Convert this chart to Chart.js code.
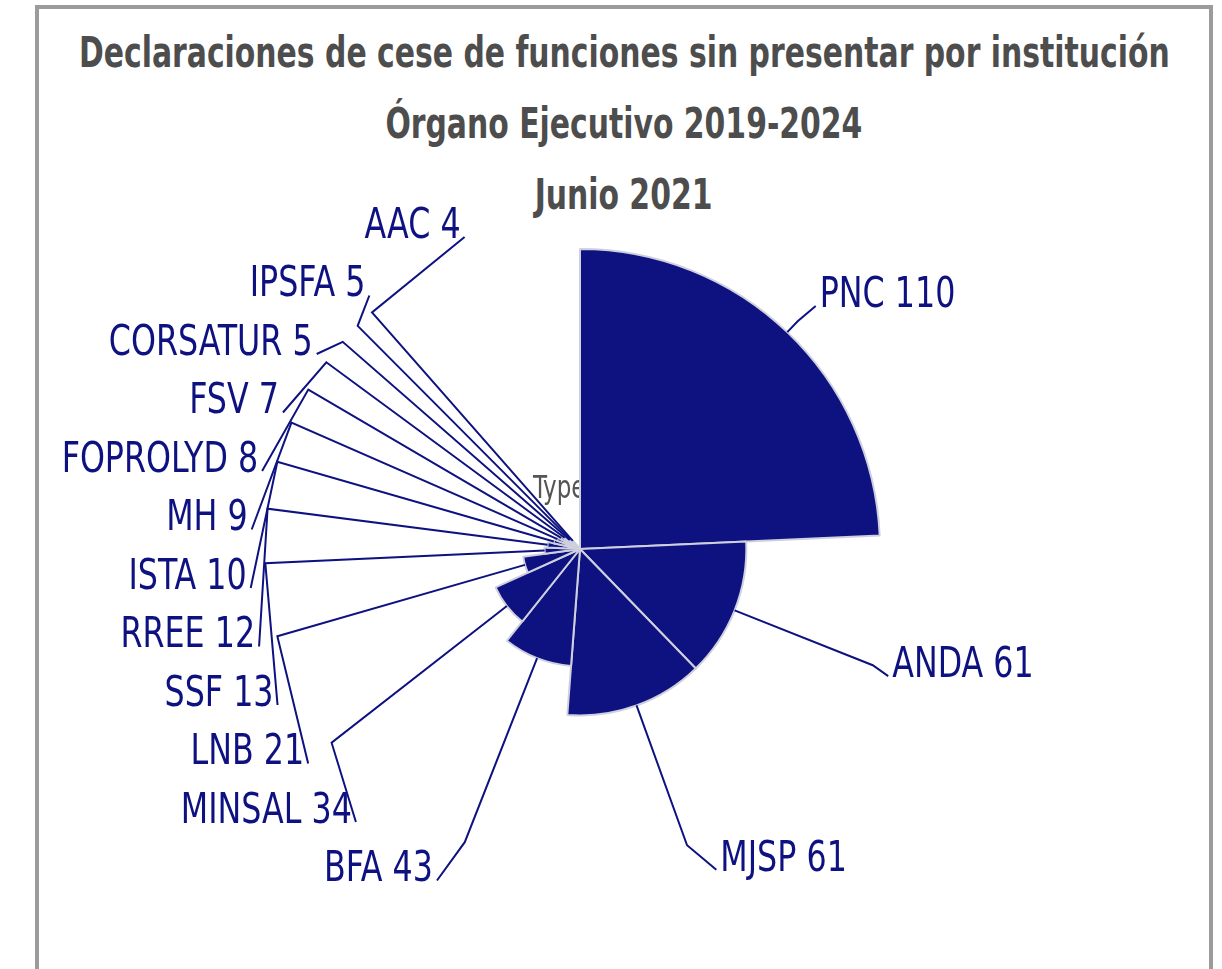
<!DOCTYPE html>
<html>
<head>
<meta charset="utf-8">
<script src="https://cdn.jsdelivr.net/npm/chart.js@4.4.1/dist/chart.umd.min.js"></script>
<style>
    html, body { margin: 0; padding: 0; background: #fff; overflow: hidden; }
    #frame { position: absolute; left: 35px; top: 5px; width: 1170px; height: 1000px; border: 4px solid #9b9b9b; border-bottom: none; }
    #title { position: absolute; left: 35px; top: 17px; width: 1178px; display: flex; flex-direction: column; align-items: center;
             color: #4d4d4d; font: bold 42px 'DejaVu Sans Condensed', 'DejaVu Sans', sans-serif; line-height: 71px; white-space: nowrap; }
    #title div { transform: scaleX(0.79); transform-origin: 50% 50%; }
    #chart { position: absolute; left: 0; top: 0; }
</style>
</head>
<body>
<div id="frame"></div>
<div id="title">
    <div>Declaraciones de cese de funciones sin presentar por institución</div>
    <div>Órgano Ejecutivo 2019-2024</div>
    <div>Junio 2021</div>
</div>
<canvas id="chart" width="1222" height="969"></canvas>
<script>
// Data
const institutions = ['PNC', 'ANDA', 'MJSP', 'BFA', 'MINSAL', 'LNB', 'SSF', 'RREE', 'ISTA', 'MH', 'FOPROLYD', 'FSV', 'CORSATUR', 'IPSFA', 'AAC'];
const pendingCounts = [110, 61, 61, 43, 34, 21, 13, 12, 10, 9, 8, 7, 5, 5, 4];
const fullCircleCount = 453; // count that fills 360 degrees in the original rose
const axisTitle = 'Type';

const navy = '#0e1280';
const labelFont = '42px "DejaVu Sans Condensed", "DejaVu Sans", sans-serif';
const squeeze = 0.84;

function drawNarrowText(ctx, text, x, y, align, sx) {
    ctx.save();
    ctx.translate(x, y);
    ctx.scale(sx, 1);
    ctx.textAlign = align;
    ctx.fillText(text, 0, 0);
    ctx.restore();
}

// Leader lines and labels round the rose
const sliceLabels = {
    id: 'sliceLabels',
    beforeDatasetsDraw(chart) {
        let scale = chart.scales.r;
        let ctx = chart.ctx;
        ctx.save();
        ctx.fillStyle = '#555555';
        ctx.font = '32px "DejaVu Sans Condensed", "DejaVu Sans", sans-serif';
        ctx.textBaseline = 'alphabetic';
        drawNarrowText(ctx, axisTitle, scale.xCenter - 47, scale.yCenter - 51, 'left', 0.8);
        ctx.restore();
    },
    afterDatasetsDraw(chart) {
        let ctx = chart.ctx;
        let scale = chart.scales.r;
        let cx = scale.xCenter, cy = scale.yCenter;
        let R = scale.drawingArea;
        let bendR = R * 1.05;
        let idealR = R * 1.13;
        let rx = R * 1.1, ry = R * 1.167;
        let gap = 58.5;

        let items = chart.getDatasetMeta(0).data.map(function(arc, i) {
            let p = arc.getProps(['startAngle', 'endAngle', 'outerRadius']);
            let mid = (p.startAngle + p.endAngle) / 2;
            return { i: i, mid: mid, r: p.outerRadius, side: Math.cos(mid) >= 0 ? 1 : -1, ideal: cy + idealR * Math.sin(mid) };
        });

        [1, -1].forEach(function(side) {
            let list = items.filter(it => it.side === side).sort((a, b) => a.ideal - b.ideal);
            for (let k = 0; k < list.length; k++) {
                list[k].y = k === 0 ? list[k].ideal : Math.max(list[k].ideal, list[k - 1].y + gap);
            }
            for (let k = list.length - 1; k >= 0; k--) {
                list[k].y = k === list.length - 1 ? Math.min(list[k].y, list[k].ideal) : Math.min(list[k].y, list[k + 1].y - gap);
            }
        });

        ctx.save();
        ctx.strokeStyle = navy;
        ctx.fillStyle = navy;
        ctx.lineWidth = 2;
        ctx.font = labelFont;
        ctx.textBaseline = 'middle';
        items.forEach(function(it) {
            let dy = it.y - cy;
            let t = Math.max(1 - (dy / ry) * (dy / ry), 0);
            let x = cx + it.side * rx * Math.sqrt(t);
            let textDy = it.side > 0 ? -8 : 6;
            ctx.beginPath();
            ctx.moveTo(cx + it.r * Math.cos(it.mid), cy + it.r * Math.sin(it.mid));
            ctx.lineTo(cx + bendR * Math.cos(it.mid), cy + bendR * Math.sin(it.mid));
            ctx.lineTo(x, it.y + textDy + 10);
            ctx.stroke();
            drawNarrowText(ctx, institutions[it.i] + ' ' + pendingCounts[it.i], x + it.side * 4, it.y + textDy,
                it.side > 0 ? 'left' : 'right', squeeze);
        });
        ctx.restore();
    }
};

let roseCtx = document.getElementById('chart').getContext('2d');

let roseChart = new Chart(roseCtx, {
    type: 'polarArea',
    data: {
        labels: institutions,
        datasets: [{
            label: 'Declaraciones',
            data: pendingCounts,
            backgroundColor: navy,
            borderColor: '#cfd0de',
            borderWidth: 2,
            angle: function(context) {
                return pendingCounts[context.dataIndex] * 360 / fullCircleCount;
            }
        }]
    },
    options: {
        responsive: false,
        animation: false,
        layout: {
            padding: { left: 280, right: 342, top: 249, bottom: 120 }
        },
        scales: {
            r: {
                min: 0,
                max: 110,
                startAngle: 0,
                display: false
            }
        },
        plugins: {
            legend: { display: false },
            tooltip: { enabled: false }
        }
    },
    plugins: [sliceLabels]
});
</script>
</body>
</html>
